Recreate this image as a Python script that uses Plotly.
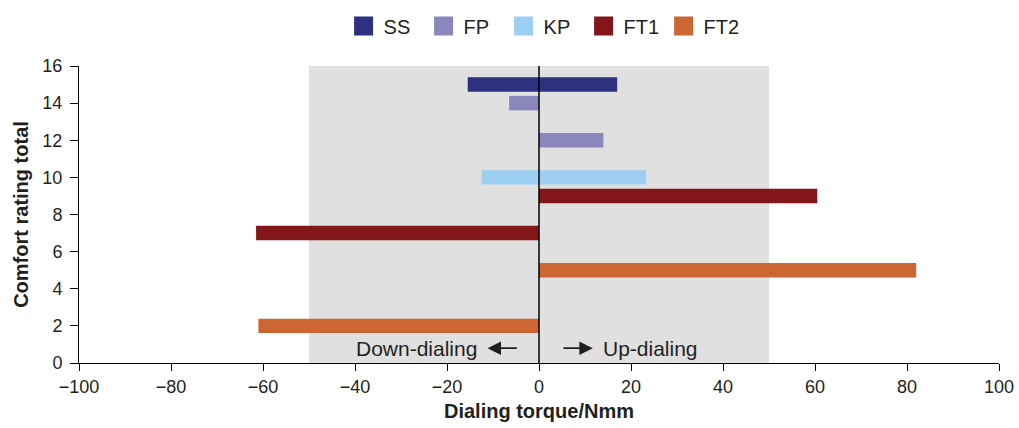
import plotly.graph_objects as go

series = ["SS", "FP", "KP", "FT1", "FT2"]
colors = ["#2e3180", "#8b87bd", "#9dcff2", "#831619", "#cc6633"]
# comfort rating total (y) for down-dialing and up-dialing, torque values (x)
down_rating = [15, 14, 10, 7, 2]
down_torque = [-15.5, -6.5, -12.5, -61.5, -61]
up_rating = [15, 12, 10, 9, 5]
up_torque = [17, 14, 23.3, 60.5, 82]

x_ticks = [-100, -80, -60, -40, -20, 0, 20, 40, 60, 80, 100]
x_ticklabels = ["\u2212100", "\u221280", "\u221260", "\u221240", "\u221220", "0", "20", "40", "60", "80", "100"]
y_ticks = [0, 2, 4, 6, 8, 10, 12, 14, 16]

FONT = "Liberation Sans, Arial, Helvetica, sans-serif"
TXT = "#231f20"

fig = go.Figure()
for i, name in enumerate(series):
    fig.add_trace(go.Bar(
        name=name,
        orientation="h",
        y=[down_rating[i], up_rating[i]],
        x=[down_torque[i], up_torque[i]],
        marker=dict(color=colors[i], line=dict(width=0)),
        width=0.78,
        showlegend=False,
    ))
# legend entries with large square swatches
for i, name in enumerate(series):
    fig.add_trace(go.Scatter(
        name=name, x=[None], y=[None], mode="markers",
        marker=dict(symbol="square", size=18, color=colors[i],
                    line=dict(width=3, color=colors[i])),
        showlegend=True,
    ))

fig.add_shape(type="rect", x0=-50, x1=50, y0=0, y1=16, xref="x", yref="y",
              fillcolor="#e0e0e0", line=dict(width=0), layer="below")
fig.add_shape(type="line", x0=0, x1=0, y0=0, y1=16, xref="x", yref="y",
              line=dict(color="black", width=1.5), layer="above")

fig.add_annotation(x=-13, y=0.8, xref="x", yref="y", text="Down-dialing", showarrow=False,
                   xanchor="right", yanchor="middle", font=dict(size=21, color=TXT, family=FONT))
fig.add_annotation(x=13.5, y=0.8, xref="x", yref="y", text="Up-dialing", showarrow=False,
                   xanchor="left", yanchor="middle", font=dict(size=21, color=TXT, family=FONT))
fig.add_annotation(x=-11.2, y=0.8, ax=-4.5, ay=0.8, xref="x", yref="y", axref="x", ayref="y",
                   text="", showarrow=True, arrowhead=2, arrowsize=1.5, arrowwidth=1.8, arrowcolor=TXT)
fig.add_annotation(x=11.7, y=0.8, ax=5, ay=0.8, xref="x", yref="y", axref="x", ayref="y",
                   text="", showarrow=True, arrowhead=2, arrowsize=1.5, arrowwidth=1.8, arrowcolor=TXT)

fig.update_layout(
    width=1019, height=428,
    margin=dict(l=79, r=20, t=66, b=65, autoexpand=False),
    barmode="overlay",
    plot_bgcolor="white", paper_bgcolor="white",
    font=dict(family=FONT, size=18, color=TXT),
    showlegend=True,
    legend=dict(orientation="h", x=0.505, xanchor="center", y=0.985, yanchor="top",
                yref="container", font=dict(size=20), traceorder="normal",
                entrywidth=35, entrywidthmode="pixels"),
    xaxis=dict(range=[-100, 100], tickvals=x_ticks, ticktext=x_ticklabels, automargin=False,
               showgrid=False, zeroline=False, showline=True, linecolor="black", linewidth=1,
               ticks="outside", ticklen=7, tickcolor="black",
               title=dict(text="<b>Dialing torque/Nmm</b>", font=dict(size=20), standoff=8)),
    yaxis=dict(range=[0, 16], tickvals=y_ticks, showgrid=False, zeroline=False, automargin=False,
               showline=True, linecolor="black", linewidth=1,
               ticks="outside", ticklen=8, tickcolor="black", ticklabelstandoff=4,
               title=dict(text="<b>Comfort rating total</b>", font=dict(size=20), standoff=8)),
)

fig.write_html("out.html")
